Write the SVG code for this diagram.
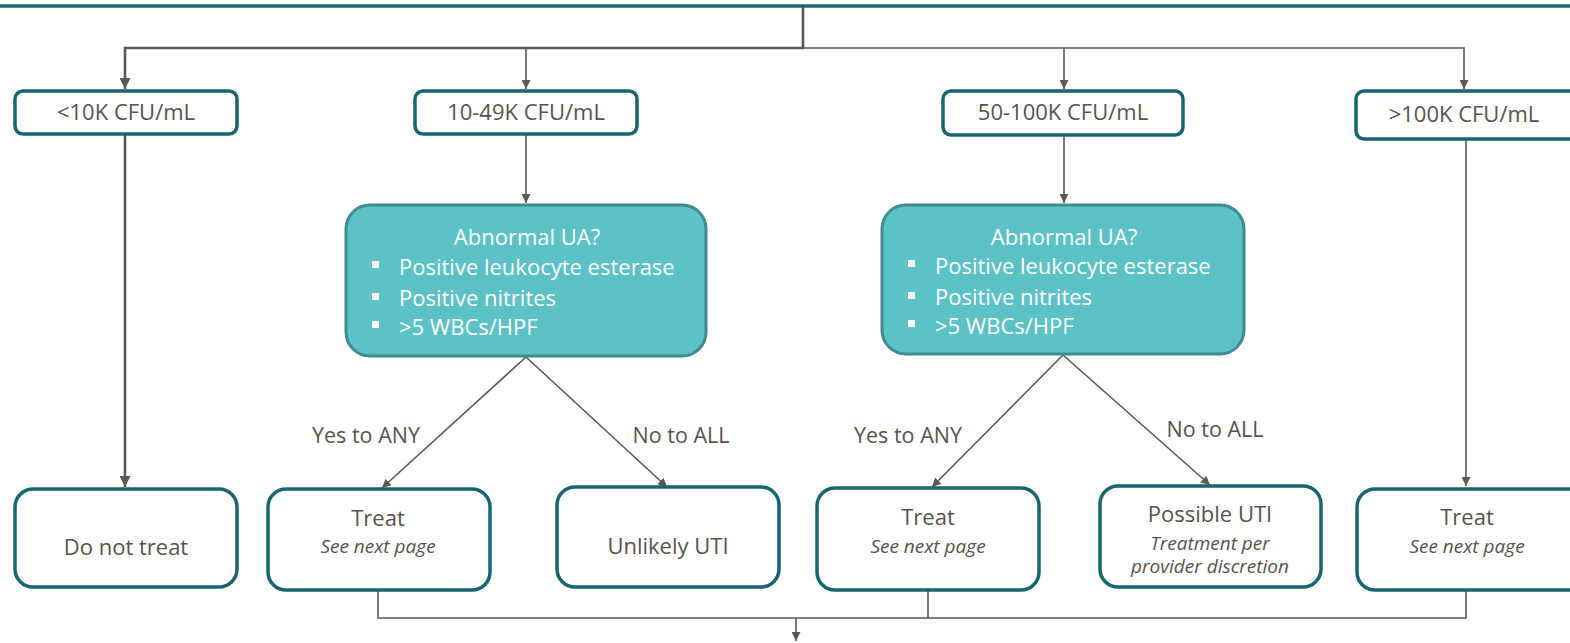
<svg xmlns="http://www.w3.org/2000/svg" width="1570" height="643" viewBox="0 0 1570 643">
<style>
.box{fill:#fff;stroke:#17666f;stroke-width:3.5}
.ua{fill:#5cc2c7;stroke:#3f8b90;stroke-width:3}
.t{font-family:"Open Sans","Noto Sans",sans-serif;fill:#5a524c;font-size:22px;text-anchor:middle}
.lb{font-family:"Open Sans","Noto Sans",sans-serif;fill:#5a524c;font-size:21.5px;text-anchor:middle}
.it{font-family:"Open Sans","Noto Sans",sans-serif;fill:#5a524c;font-size:19px;font-style:italic;text-anchor:middle}
.w{font-family:"Open Sans","Noto Sans",sans-serif;fill:#fff;font-size:22px}
.c{fill:none;stroke:#5f5751;stroke-width:1.6}
.ck{fill:none;stroke:#5f5751;stroke-width:2.6}
</style>
<defs>
<marker id="ah" viewBox="0 0 10 10" refX="10" refY="5" markerWidth="9" markerHeight="9" markerUnits="userSpaceOnUse" orient="auto">
<path d="M0,0 L10,5 L0,10 z" fill="#5f5751"/>
</marker>
<marker id="ahk" viewBox="0 0 10 10" refX="10" refY="5" markerWidth="11" markerHeight="11" markerUnits="userSpaceOnUse" orient="auto">
<path d="M0,0 L10,5 L0,10 z" fill="#5f5751"/>
</marker>
</defs>
<rect width="1570" height="643" fill="#fff"/>
<line x1="0" y1="6" x2="1570" y2="6" stroke="#17666f" stroke-width="3.5"/>
<g id="connectors">
<path class="ck" d="M803,7 V48 H125 V89" marker-end="url(#ahk)"/>
<path class="c" d="M526,48 V89" marker-end="url(#ah)"/>
<path class="c" d="M803,48 H1464 V89" marker-end="url(#ah)"/>
<path class="c" d="M1064,48 V89" marker-end="url(#ah)"/>
<path class="ck" d="M125,135 V487" marker-end="url(#ahk)"/>
<path class="c" d="M526,135 V203" marker-end="url(#ah)"/>
<path class="c" d="M1064,136 V203" marker-end="url(#ah)"/>
<path class="c" d="M1466,140 V486" marker-end="url(#ah)"/>
<path class="c" d="M526,357 L382,488" marker-end="url(#ah)"/>
<path class="c" d="M526,357 L667,487" marker-end="url(#ah)"/>
<path class="c" d="M1063,355 L932,487" marker-end="url(#ah)"/>
<path class="c" d="M1063,355 L1210,485" marker-end="url(#ah)"/>
<path class="c" d="M378,591 V618 H1466 V591"/>
<path class="c" d="M928,591 V618"/>
<path class="c" d="M796,618 V641" marker-end="url(#ah)"/>
<text class="lb" x="366" y="443">Yes to ANY</text>
<text class="lb" x="681" y="443">No to ALL</text>
<text class="lb" x="908" y="443">Yes to ANY</text>
<text class="lb" x="1215" y="437">No to ALL</text>
</g>
<g id="n1"><rect class="box" x="15" y="91" width="222" height="43" rx="8"/><text class="t" x="126" y="120">&lt;10K CFU/mL</text></g>
<g id="n2"><rect class="box" x="415" y="91" width="222" height="43" rx="8"/><text class="t" x="526" y="120">10-49K CFU/mL</text></g>
<g id="n3"><rect class="box" x="943" y="91" width="240" height="44" rx="8"/><text class="t" x="1063" y="120">50-100K CFU/mL</text></g>
<g id="n4"><rect class="box" x="1356" y="91" width="230" height="48" rx="8"/><text class="t" x="1464" y="122">&gt;100K CFU/mL</text></g>
<g id="uaA"><rect class="ua" x="346" y="205" width="360" height="151" rx="24"/>
<text class="w" x="527" y="245" text-anchor="middle">Abnormal UA?</text>
<rect x="372" y="261" width="7" height="7" fill="#fff"/><text class="w" x="399" y="275">Positive leukocyte esterase</text>
<rect x="372" y="293" width="7" height="7" fill="#fff"/><text class="w" x="399" y="306">Positive nitrites</text>
<rect x="372" y="321" width="7" height="7" fill="#fff"/><text class="w" x="399" y="335">&gt;5 WBCs/HPF</text>
</g>
<g id="uaB"><rect class="ua" x="882" y="205" width="362" height="149" rx="24"/>
<text class="w" x="1064" y="245" text-anchor="middle">Abnormal UA?</text>
<rect x="908" y="260" width="7" height="7" fill="#fff"/><text class="w" x="935" y="274">Positive leukocyte esterase</text>
<rect x="908" y="292" width="7" height="7" fill="#fff"/><text class="w" x="935" y="305">Positive nitrites</text>
<rect x="908" y="320" width="7" height="7" fill="#fff"/><text class="w" x="935" y="334">&gt;5 WBCs/HPF</text>
</g>
<g id="b1"><rect class="box" x="15" y="489" width="222" height="98" rx="18"/><text class="t" x="126" y="555">Do not treat</text></g>
<g id="b2"><rect class="box" x="268" y="489" width="222" height="101" rx="18"/><text class="t" x="378" y="526">Treat</text><text class="it" x="378" y="553">See next page</text></g>
<g id="b3"><rect class="box" x="557" y="487" width="222" height="100" rx="18"/><text class="t" x="668" y="554">Unlikely UTI</text></g>
<g id="b4"><rect class="box" x="817" y="488" width="222" height="102" rx="18"/><text class="t" x="928" y="525">Treat</text><text class="it" x="928" y="553">See next page</text></g>
<g id="b5"><rect class="box" x="1100" y="486" width="221" height="101" rx="18"/><text class="t" x="1210" y="522">Possible UTI</text><text class="it" x="1210" y="550">Treatment per</text><text class="it" x="1210" y="573">provider discretion</text></g>
<g id="b6"><rect class="box" x="1357" y="489" width="230" height="101" rx="18"/><text class="t" x="1467" y="525">Treat</text><text class="it" x="1467" y="553">See next page</text></g>
</svg>
